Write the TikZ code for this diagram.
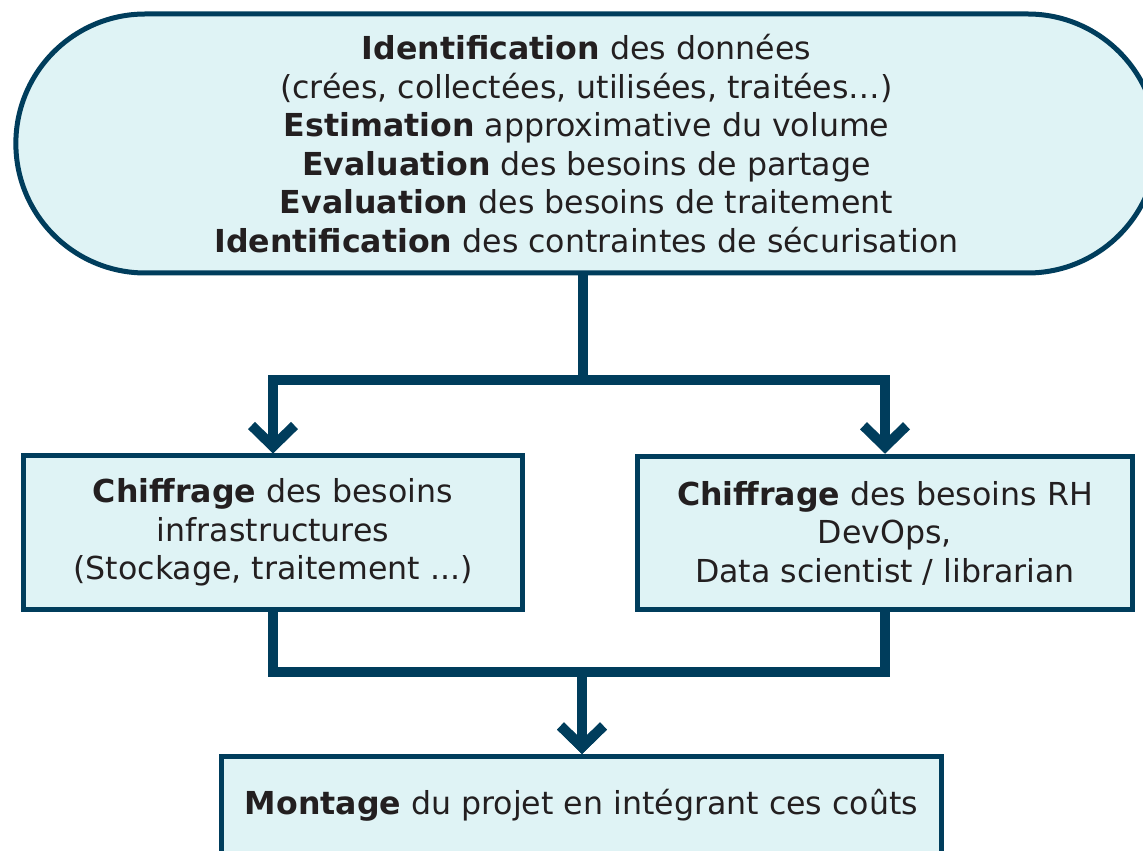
\documentclass[tikz,border=0pt]{standalone}
\usepackage{fontspec}
\setmainfont{DejaVu Sans}
\usetikzlibrary{arrows.meta}
\usetikzlibrary{shapes.misc}
\definecolor{boxblue}{HTML}{003D5C}
\definecolor{boxfill}{HTML}{DFF3F5}
\definecolor{boxtext}{HTML}{231F20}
\tikzstyle{stepnode}=[draw=boxblue,fill=boxfill,line width=0.1cm,text=boxtext,align=center,font=\fontsize{18}{21.9}\selectfont]
\tikzstyle{roundstep}=[stepnode,rounded rectangle,minimum width=23.06cm,minimum height=5.18cm]
\tikzstyle{costbox}=[stepnode,rectangle,minimum height=3.07cm]
\tikzstyle{flowline}=[draw=boxblue,line width=0.2cm]
\tikzstyle{flowarrow}=[flowline,-{Straight Barb[length=0.42cm,width=0.86cm]}]

\begin{document}
\begin{tikzpicture}
  \useasboundingbox (0,0) rectangle (22.86,17);
  % etapes
  \node[roundstep] (ident) at (11.73,14.13) {\textbf{Identification} des données\\
    (crées, collectées, utilisées, traitées…)\\
    \textbf{Estimation} approximative du volume\\
    \textbf{Evaluation} des besoins de partage\\
    \textbf{Evaluation} des besoins de traitement\\
    \textbf{Identification} des contraintes de sécurisation};
  \node[costbox,minimum width=9.98cm] (infra) at (5.46,6.345) {\textbf{Chiffrage} des besoins\\
    infrastructures\\
    (Stockage, traitement ...)};
  \node[costbox,minimum width=9.9cm] (rh) at (17.70,6.34) {\textbf{Chiffrage} des besoins RH\\
    DevOps,\\
    Data scientist / librarian};
  \node[stepnode,minimum width=14.4cm,minimum height=1.94cm] (montage) at (11.63,0.9) {\textbf{Montage} du projet en intégrant ces coûts};
  % embranchements
  \coordinate (split) at (11.66,9.4);
  \coordinate (merge) at (11.64,3.56);
  \draw[flowarrow] (ident.south -| split) -- (split) -| (infra.north);
  \draw[flowarrow] (ident.south -| split) -- (split) -| (rh.north);
  \draw[flowarrow] (infra.south) |- (merge) -- (montage.north -| merge);
  \draw[flowarrow] (rh.south) |- (merge) -- (montage.north -| merge);
\end{tikzpicture}
\end{document}
